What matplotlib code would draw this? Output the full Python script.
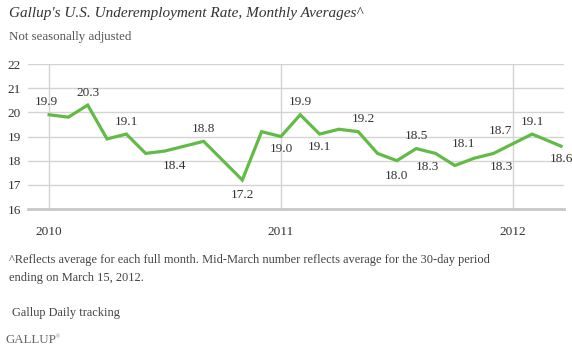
import matplotlib
matplotlib.use("Agg")
import matplotlib.pyplot as plt
import numpy as np

# Data
month_pos = list(range(26)) + [26.5]  # Jan 2010 .. Feb 2012, then mid-March 2012
rates = [19.9, 19.8, 20.3, 18.9, 19.1, 18.3, 18.4, 18.6, 18.8, 18.0, 17.2, 19.2,
         19.0, 19.9, 19.1, 19.3, 19.2, 18.3, 18.0, 18.5, 18.3, 17.8, 18.1, 18.3,
         18.7, 19.1, 18.6]
year_ticks = [0, 12, 24]
year_labels = ["2010", "2011", "2012"]
y_ticks = [16, 17, 18, 19, 20, 21, 22]

# labelled points: index -> (dx, dy) offsets in points
label_offsets = {
    0: (-2, 9), 2: (0, 9), 4: (0, 9), 6: (7, -11), 8: (0, 9), 10: (0, -11),
    12: (0, -9), 13: (0, 9), 14: (0, -9), 16: (4, 9), 18: (0, -11), 19: (0, 9),
    20: (-6, -10), 22: (-8, 10), 23: (6, -10), 24: (-9, 9), 25: (0, 9), 26: (0, -9),
}

serif = ["Liberation Serif", "DejaVu Serif"]
plt.rcParams["font.family"] = serif

fig = plt.figure(figsize=(5.72, 3.54), dpi=100)
ax = fig.add_axes([28/572, 1-209/354, (564-28)/572, (209-64)/354])

ax.set_xlim(-1.09, 26.65)
ax.set_ylim(16, 22)
ax.set_yticks(y_ticks)
ax.set_xticks(year_ticks)
ax.set_xticklabels(year_labels)
ax.grid(True, color="#d4d4d4", linewidth=1.0)
ax.set_axisbelow(True)
for s in ["top", "right", "left"]:
    ax.spines[s].set_visible(False)
ax.spines["bottom"].set_color("#c8c8c8")
ax.spines["bottom"].set_linewidth(2)
ax.tick_params(length=0, labelsize=9.5, colors="#333333")
ax.tick_params(axis="x", pad=12)
ax.tick_params(axis="y", pad=5)

ax.plot(month_pos, rates, color="#62bb46", linewidth=2.3, solid_joinstyle="miter", clip_on=False, zorder=3)

for i, (dx, dy) in label_offsets.items():
    ax.annotate(f"{rates[i]:.1f}", (month_pos[i], rates[i]), xytext=(dx, dy),
                textcoords="offset points", ha="center", va="center",
                fontsize=9.5, color="#333333")

fig.text(9/572, 1-13/354, "Gallup's U.S. Underemployment Rate, Monthly Averages^",
         fontsize=11, style="italic", color="#333333", va="center", ha="left")
fig.text(9/572, 1-37/354, "Not seasonally adjusted", fontsize=9.3, color="#555555",
         va="center", ha="left")
fig.text(9/572, 1-260/354,
         "^Reflects average for each full month. Mid-March number reflects average for the 30-day period",
         fontsize=8.9, color="#444444", va="center", ha="left")
fig.text(9/572, 1-278/354, "ending on March 15, 2012.", fontsize=8.9, color="#444444",
         va="center", ha="left")
fig.text(12/572, 1-313/354, "Gallup Daily tracking", fontsize=8.9, color="#444444",
         va="center", ha="left")
fig.text(6/572, 1-340/354, "GALLUP", fontsize=9.3, color="#666666", va="center", ha="left")
fig.text(56/572, 1-337/354, "®", fontsize=4, color="#888888", va="center", ha="left")

fig.savefig("out.png", dpi=100)
